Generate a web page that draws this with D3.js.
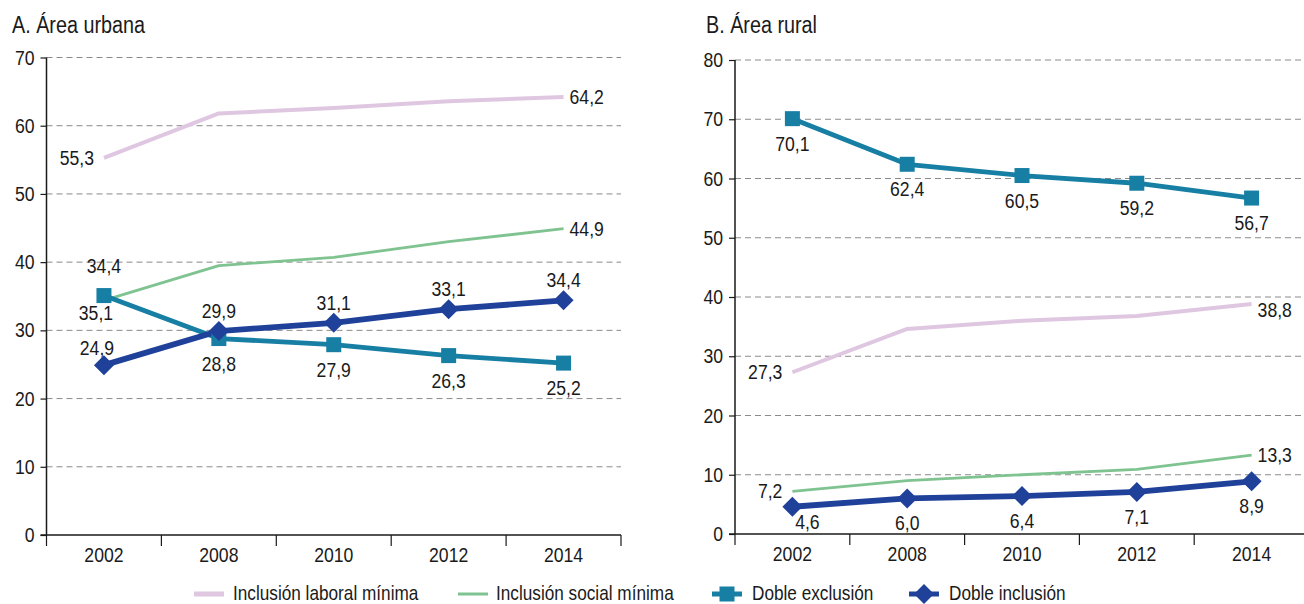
<!DOCTYPE html>
<html><head><meta charset="utf-8">
<script src="https://cdn.jsdelivr.net/npm/d3@7"></script>
<style>
html,body{margin:0;padding:0;background:#fff;}
text{font-family:"Liberation Sans Narrow","Liberation Sans",Arial,sans-serif;fill:#1a1a1a;}
</style></head>
<body><svg id="c" width="1304" height="604"></svg>
<script>
const years = ["2002","2008","2010","2012","2014"];
const seriesNames = ["Inclusión laboral mínima","Inclusión social mínima","Doble exclusión","Doble inclusión"];
// Urban
const urbLaboral = [55.3, 61.8, 62.6, 63.6, 64.2];
const urbSocial  = [34.4, 39.5, 40.7, 43.0, 44.9];
const urbDobleEx = [35.1, 28.8, 27.9, 26.3, 25.2];
const urbDobleIn = [24.9, 29.9, 31.1, 33.1, 34.4];
// Rural
const rurLaboral = [27.3, 34.6, 36.0, 36.8, 38.8];
const rurSocial  = [7.2, 9.0, 10.0, 10.9, 13.3];
const rurDobleEx = [70.1, 62.4, 60.5, 59.2, 56.7];
const rurDobleIn = [4.6, 6.0, 6.4, 7.1, 8.9];
const urbTicks = [0,10,20,30,40,50,60,70];
const rurTicks = [0,10,20,30,40,50,60,70,80];
// which points get a label and where
const urbLabelPos = {
  laboral: ["left",null,null,null,"right"],
  social:  ["above2",null,null,null,"right"],
  dobleEx: ["belowleft","below","below","below","below"],
  dobleIn: ["aboveleft","above","above","above","above"]
};
const rurLabelPos = {
  laboral: ["left",null,null,null,"rightlow"],
  social:  ["left",null,null,null,"right"],
  dobleEx: ["below","below","below","below","below"],
  dobleIn: ["belowright","below","below","below","below"]
};

const colors = {laboral:"#dfc7e2", social:"#7fc391", dobleEx:"#177fa4", dobleIn:"#20419a"};
const widths = {laboral:4, social:2.8, dobleEx:4.8, dobleIn:5.8};
const SX = 0.86;          // horizontal condensing of the text
const FS = 20.5;          // font size for numbers
const fmt = v => d3.format(".1f")(v).replace(".", ",");
const svg = d3.select("#c");

function ctext(parent, X, Y, str, anchor, fs){
  return parent.append("text")
    .attr("transform", `translate(${X},${Y}) scale(${SX},1)`)
    .attr("text-anchor", anchor || "start")
    .attr("font-size", fs || FS).text(str);
}
function condenseAxisText(sel){
  sel.each(function(){
    const t = d3.select(this);
    const x = +t.attr("x") || 0;
    t.attr("x", x / SX).attr("transform", `scale(${SX},1)`);
  });
}

function panel(cfg){
  const g = svg.append("g");
  const x = d3.scaleBand().domain(years).range(cfg.xr).paddingInner(0).paddingOuter(0);
  const y = d3.scaleLinear().domain([0, cfg.ymax]).range(cfg.yr);
  // title
  ctext(g, cfg.titleX, 33, cfg.title, "start", 23);
  // grid
  g.selectAll(".grid").data(cfg.ticks.filter(t=>t>0)).enter().append("line")
    .attr("x1", cfg.xr[0]).attr("x2", cfg.gridEnd)
    .attr("y1", d=>y(d)).attr("y2", d=>y(d))
    .attr("stroke","#8a8a8a").attr("stroke-width",1).attr("stroke-dasharray","6,4");
  // y axis
  const ya = g.append("g").attr("transform",`translate(${cfg.xr[0]},0)`)
    .call(d3.axisLeft(y).tickValues(cfg.ticks).tickSize(6).tickPadding(6).tickFormat(d3.format("d")));
  ya.select(".domain").attr("stroke","#1a1a1a").attr("stroke-width",1.5).attr("d",`M0,${cfg.yr[1]}V${cfg.yr[0]}`);
  ya.selectAll(".tick line").attr("stroke","#1a1a1a").attr("stroke-width",1.2);
  ya.selectAll("text").attr("font-size",FS).style("font-family",null).attr("fill","#1a1a1a").call(condenseAxisText);
  // x axis
  const xa = g.append("g").attr("transform",`translate(0,${cfg.yr[0]})`)
    .call(d3.axisBottom(x).tickSize(0).tickPadding(11));
  xa.select(".domain").attr("stroke","#1a1a1a").attr("stroke-width",1.5).attr("d",`M${cfg.xr[0]-6},0H${Math.min(cfg.xr[1],1304)}`);
  xa.selectAll("text").attr("font-size",FS).attr("dy","0.8em").style("font-family",null).attr("fill","#1a1a1a").call(condenseAxisText);
  // band boundary ticks
  const bounds = years.map(yy=>x(yy)).concat([x(years[years.length-1])+x.bandwidth()]);
  g.selectAll(".btick").data(bounds.filter(b=>b<=1304)).enter().append("line")
    .attr("x1",d=>d).attr("x2",d=>d).attr("y1",cfg.yr[0]).attr("y2",cfg.yr[0]+11)
    .attr("stroke","#1a1a1a").attr("stroke-width",1.2);

  const cx = d => x(d) + x.bandwidth()/2;
  const line = d3.line().x((d,i)=>cx(years[i])).y(d=>y(d));
  const order = ["laboral","social","dobleEx","dobleIn"];
  order.forEach(k=>{
    g.append("path").datum(cfg.data[k]).attr("d",line).attr("fill","none")
      .attr("stroke",colors[k]).attr("stroke-width",widths[k]).attr("stroke-linejoin","round");
  });
  // markers
  g.selectAll(".sq").data(cfg.data.dobleEx).enter().append("rect")
    .attr("x",(d,i)=>cx(years[i])-7.5).attr("y",d=>y(d)-7.5).attr("width",15).attr("height",15)
    .attr("fill",colors.dobleEx);
  g.selectAll(".dm").data(cfg.data.dobleIn).enter().append("path")
    .attr("d",(d,i)=>{const X=cx(years[i]),Y=y(d),r=10;return `M${X},${Y-r}L${X+r},${Y}L${X},${Y+r}L${X-r},${Y}Z`;})
    .attr("fill",colors.dobleIn);
  // labels
  order.forEach(k=>{
    cfg.data[k].forEach((v,i)=>{
      const p = cfg.pos[k][i]; if(!p) return;
      let X = cx(years[i]), Y = y(v), anchor="middle";
      if(p==="left"){X-=10;Y+=7;anchor="end";}
      else if(p==="right"){X+=6;Y+=7;anchor="start";}
      else if(p==="rightlow"){X+=6;Y+=13;anchor="start";}
      else if(p==="above"){Y-=13;}
      else if(p==="above2"){Y-=27;}
      else if(p==="aboveleft"){X-=7;Y-=10;}
      else if(p==="below"){Y+=32;}
      else if(p==="belowleft"){X-=8;Y+=24;}
      else if(p==="belowright"){X+=15;Y+=22;}
      ctext(g, X, Y, fmt(v), anchor);
    });
  });
}

panel({title:"A. Área urbana", titleX:12, xr:[46.5,621], yr:[535,57.5], ymax:70, ticks:urbTicks, gridEnd:621,
  data:{laboral:urbLaboral, social:urbSocial, dobleEx:urbDobleEx, dobleIn:urbDobleIn}, pos:urbLabelPos});
panel({title:"B. Área rural", titleX:706, xr:[735,1309], yr:[534,60], ymax:80, ticks:rurTicks, gridEnd:1304,
  data:{laboral:rurLaboral, social:rurSocial, dobleEx:rurDobleEx, dobleIn:rurDobleIn}, pos:rurLabelPos});

// legend
const lg = svg.append("g");
const legendItems = [
  {k:"laboral", x0:194, tx:233},
  {k:"social", x0:458, tx:496},
  {k:"dobleEx", x0:712, tx:752},
  {k:"dobleIn", x0:909, tx:949}
];
const ly = 594;
legendItems.forEach((it,i)=>{
  lg.append("line").attr("x1",it.x0).attr("x2",it.x0+30).attr("y1",ly).attr("y2",ly)
    .attr("stroke",colors[it.k]).attr("stroke-width",it.k==="social"?3:5);
  const mx = it.x0+15;
  if(it.k==="dobleEx") lg.append("rect").attr("x",mx-7.5).attr("y",ly-7.5).attr("width",15).attr("height",15).attr("fill",colors.dobleEx);
  if(it.k==="dobleIn") lg.append("path").attr("d",`M${mx},${ly-10}L${mx+10},${ly}L${mx},${ly+10}L${mx-10},${ly}Z`).attr("fill",colors.dobleIn);
  ctext(lg, it.tx, 600, seriesNames[i], "start", 20);
});
</script></body></html>
